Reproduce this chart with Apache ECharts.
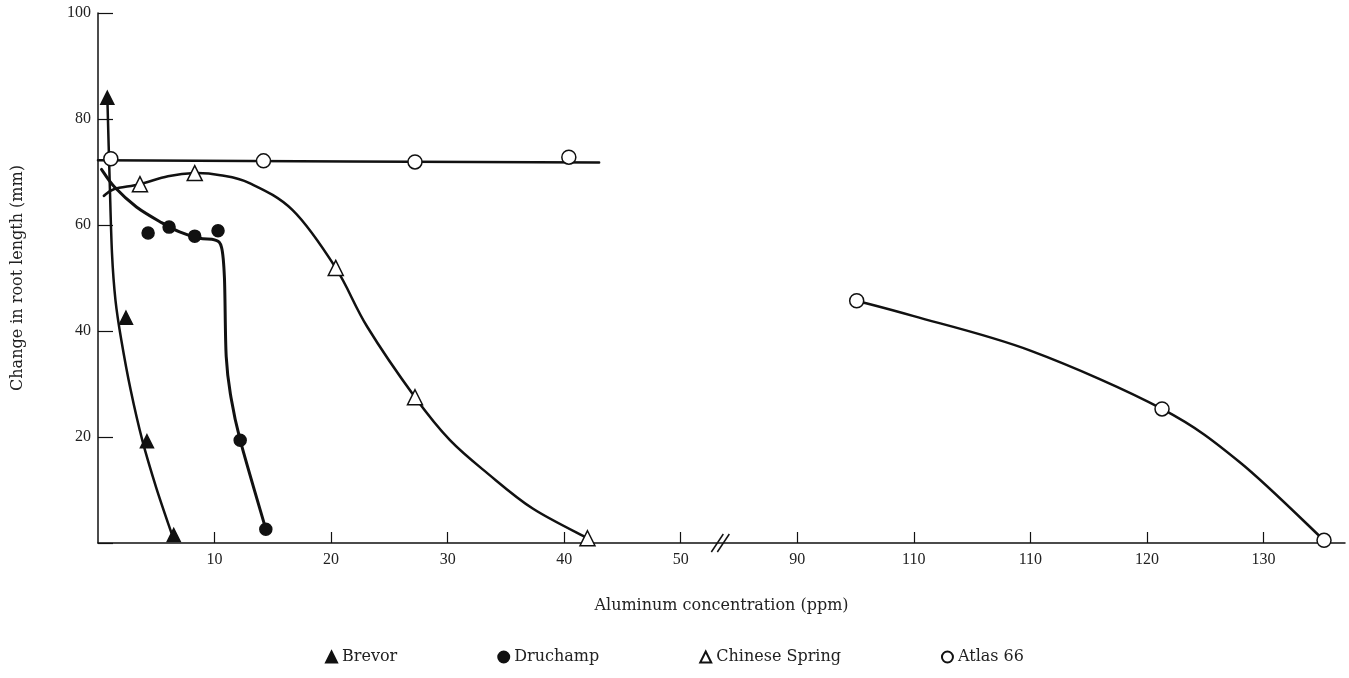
<!DOCTYPE html>
<html>
<head>
<meta charset="utf-8">
<title>Change in root length vs aluminum concentration</title>
<script src="https://cdn.jsdelivr.net/npm/echarts@6.0.0/dist/echarts.min.js"></script>
<style>
  html, body { margin: 0; padding: 0; background: #fff; }
  #chart { width: 1349px; height: 678px; }
</style>
</head>
<body>
<div id="chart"></div>
<script>
// x axis skips 50..80 ppm: values above 50 are drawn shifted back by breakShift
const breakShift = 30;
const breakMarkAt = 53.4;
const xTickPos = [10, 20, 30, 40, 50, 60, 70, 80, 90, 100];
const xTickLabels = ['10', '20', '30', '40', '50', '90', '110', '110', '120', '130'];
const yTicks = [20, 40, 60, 80, 100];

// measured points [ppm, mm]
const brevorPts = [[0.8, 84], [2.4, 42.5], [4.2, 19.2], [6.5, 1.5]];
const druchampPts = [[4.3, 58.5], [6.1, 59.6], [8.3, 57.9], [10.3, 58.9], [12.2, 19.4], [14.4, 2.6]];
const springPts = [[3.6, 67.7], [8.3, 69.8], [20.4, 51.9], [27.2, 27.5], [42.0, 0.9]];
const atlasPts = [[1.1, 72.5], [14.2, 72.1], [27.2, 71.9], [40.4, 72.8], [95.1, 45.7], [121.3, 25.3], [135.2, 0.5]];

// fitted curves as drawn in the figure
const brevorCurve = [[0.8, 84.2], [1.0, 68.5], [1.2, 54.7], [1.5, 45.8], [2.0, 38.3], [2.8, 28.9], [3.8, 19.4], [5.0, 10.4], [6.3, 1.9]];
const druchampCurve = [[0.3, 70.5], [1.4, 67.2], [3.3, 63.4], [5.5, 60.4], [7.0, 58.7], [8.7, 57.5], [10.0, 57.2], [10.6, 55.8], [10.85, 50], [11.0, 35.2], [11.4, 27.6], [12.2, 19.4], [14.4, 2.6]];
const springCurve = [[0.5, 65.5], [1.4, 66.8], [3.6, 67.7], [6.0, 69.2], [8.3, 69.8], [10.5, 69.4], [13.0, 67.9], [16.7, 62.8], [20.4, 51.9], [23.1, 40.8], [27.2, 27.5], [30.2, 19.4], [33.5, 13.0], [37.3, 6.5], [42.0, 0.9]];
const atlasFlat = [[0, 72.2], [43, 71.8]];
const atlasCurve = [[95.1, 45.7], [100, 42.8], [110, 36.3], [121.3, 25.3], [128, 15.2], [135.2, 0.5]];

const ink = '#111';
const serif = 'Liberation Serif';
const wideSerif = 'DejaVu Serif';

const curves = [
    { pts: brevorCurve, width: 2.5 },
    { pts: druchampCurve, width: 3 },
    { pts: springCurve, width: 2.5 },
    { pts: atlasFlat, width: 2.5 },
    { pts: atlasCurve, width: 2.5 }
];

function toAxis(p) {
    return [p[0] > 50 ? p[0] - breakShift : p[0], p[1]];
}

// Catmull-Rom through pixel points -> cubic bezier path
function splinePath(px) {
    let d = 'M' + px[0][0] + ' ' + px[0][1];
    for (let i = 0; i < px.length - 1; i++) {
        const p0 = px[i > 0 ? i - 1 : i];
        const p1 = px[i];
        const p2 = px[i + 1];
        const p3 = px[i + 2 < px.length ? i + 2 : i + 1];
        const c1 = [p1[0] + (p2[0] - p0[0]) / 6, p1[1] + (p2[1] - p0[1]) / 6];
        const c2 = [p2[0] - (p3[0] - p1[0]) / 6, p2[1] - (p3[1] - p1[1]) / 6];
        d += ' C' + c1[0] + ' ' + c1[1] + ' ' + c2[0] + ' ' + c2[1] + ' ' + p2[0] + ' ' + p2[1];
    }
    return d;
}

function marks(name, pts, symbol, size, fill) {
    return {
        name: name,
        type: 'scatter',
        data: pts.map(toAxis),
        symbol: symbol,
        symbolSize: size,
        z: 4,
        itemStyle: { color: fill, borderColor: ink, borderWidth: 1.5, opacity: 1 }
    };
}

const myChart = echarts.init(document.getElementById('chart'));
const options = {
    backgroundColor: '#fff',
    animation: false,
    grid: {
        left: 98,
        right: 4,
        top: 13,
        bottom: 135,
        outerBoundsMode: 'none'
    },
    legend: {
        data: ['Brevor', 'Druchamp', 'Chinese Spring', 'Atlas 66'],
        left: 'center',
        bottom: 8,
        itemWidth: 11,
        itemHeight: 11,
        itemGap: 100,
        textStyle: { fontFamily: wideSerif, fontSize: 16, color: '#222' }
    },
    xAxis: {
        type: 'value',
        min: 0,
        max: 107,
        name: 'Aluminum concentration (ppm)',
        nameLocation: 'middle',
        nameGap: 55,
        nameTextStyle: { fontFamily: wideSerif, fontSize: 16, color: '#222' },
        axisLine: { show: true, lineStyle: { color: ink, width: 1.5 } },
        axisTick: { show: true, inside: true, length: 11, customValues: xTickPos, lineStyle: { color: ink, width: 1.2 } },
        axisLabel: {
            customValues: xTickPos,
            margin: 9,
            fontFamily: serif,
            fontSize: 16,
            color: '#222',
            formatter: v => {
                const i = xTickPos.indexOf(v);
                return i >= 0 ? xTickLabels[i] : '';
            }
        },
        splitLine: { show: false }
    },
    yAxis: {
        type: 'value',
        min: 0,
        max: 100,
        interval: 20,
        name: 'Change in root length (mm)',
        nameLocation: 'middle',
        nameGap: 72,
        nameTextStyle: { fontFamily: wideSerif, fontSize: 16, color: '#222' },
        axisLine: { show: true, lineStyle: { color: ink, width: 1.5 } },
        axisTick: { show: true, inside: true, length: 15, lineStyle: { color: ink, width: 1.2 } },
        axisLabel: {
            margin: 7,
            fontFamily: serif,
            fontSize: 16,
            color: '#222',
            formatter: v => (yTicks.indexOf(v) >= 0 ? String(v) : '')
        },
        splitLine: { show: false }
    },
    series: [
        {
            // fitted curves, mapped through the axes with api.coord
            type: 'custom',
            silent: true,
            clip: false,
            z: 2,
            data: curves.map((c, i) => toAxis(c.pts[0]).concat(i)),
            renderItem: (params, api) => {
                const c = curves[api.value(2)];
                const px = c.pts.map(p => api.coord(toAxis(p)));
                return {
                    type: 'path',
                    shape: { pathData: splinePath(px) },
                    style: { fill: null, stroke: ink, lineWidth: c.width, lineJoin: 'round', lineCap: 'round' }
                };
            }
        },
        marks('Brevor', brevorPts, 'triangle', 13, ink),
        marks('Druchamp', druchampPts, 'circle', 12, ink),
        marks('Chinese Spring', springPts, 'triangle', 15, '#fff'),
        marks('Atlas 66', atlasPts, 'circle', 14, '#fff'),
        {
            // "//" mark where the axis is broken
            type: 'custom',
            silent: true,
            clip: false,
            z: 5,
            data: [[breakMarkAt, 0]],
            renderItem: (params, api) => {
                const p = api.coord([api.value(0), api.value(1)]);
                return {
                    type: 'group',
                    children: [-3, 3].map(dx => ({
                        type: 'line',
                        shape: { x1: p[0] + dx - 6, y1: p[1] + 9, x2: p[0] + dx + 6, y2: p[1] - 9 },
                        style: { stroke: ink, lineWidth: 1.5 }
                    }))
                };
            }
        }
    ]
};
myChart.setOption(options);
window.addEventListener('resize', myChart.resize);
</script>
</body>
</html>
